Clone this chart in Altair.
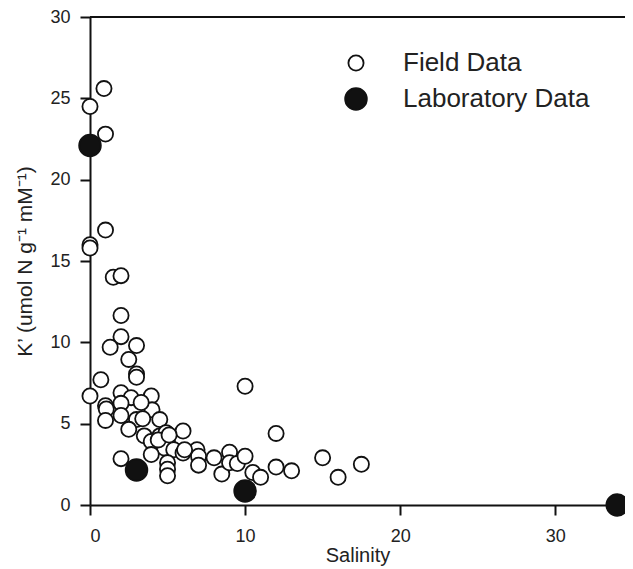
import altair as alt
import pandas as pd

field_x = [0, 0.9, 1.0, 0, 0, 1.0, 1.5, 2.0, 2.0, 2.0, 1.3, 3.0, 2.5, 3.0, 3.0,
           0.7, 0, 2.0, 2.65, 3.95, 1.0, 1.05, 2.0, 2.0, 1.0, 3.0, 4.0, 3.3, 4.5,
           2.5, 3.5, 3.95, 4.5, 4.9, 6.0, 5.0, 4.8, 5.4, 6.0, 3.95, 2.0, 5.0, 5.0,
           5.0, 6.9, 7.0, 7.0, 8.0, 8.5, 9.0, 9.0, 9.5, 10.0, 10.0, 10.5, 11.0,
           12.0, 12.0, 13.0, 15.0, 16.0, 17.5, 6.1, 4.4, 5.1, 3.4]
field_y = [24.5, 25.6, 22.8, 16.0, 15.8, 16.9, 14.0, 14.1, 11.65, 10.35, 9.7, 9.8,
           8.95, 8.05, 7.85, 7.7, 6.7, 6.9, 6.6, 6.7, 6.1, 5.9, 6.25, 5.5, 5.2, 5.25,
           5.85, 6.3, 5.25, 4.65, 4.25, 3.9, 4.25, 4.45, 4.55, 3.85, 3.5, 3.4, 3.2,
           3.1, 2.85, 2.6, 2.2, 1.8, 3.4, 3.0, 2.45, 2.9, 1.9, 3.25, 2.6, 2.55, 3.0,
           7.3, 2.0, 1.7, 4.4, 2.33, 2.1, 2.9, 1.7, 2.5, 3.4, 4.0, 4.3, 5.3]

lab_x = [0, 3, 10, 34]
lab_y = [22.1, 2.15, 0.86, 0]

series = ["Field Data", "Laboratory Data"]

df = pd.DataFrame({
    "Salinity": field_x + lab_x,
    "K": field_y + lab_y,
    "Type": [series[0]] * len(field_x) + [series[1]] * len(lab_x),
})

font = "Liberation Sans"
ink = "#111111"
txt = "#222222"
xs = alt.Scale(domain=[0, 34.5], nice=False, zero=False)
ys = alt.Scale(domain=[0, 30], nice=False)

axis_common = dict(grid=False, domainColor=ink, domainWidth=2, tickColor=ink,
                   tickWidth=2, tickSize=10, labelFontSize=18, labelColor=txt,
                   titleFontWeight="normal", titleColor=txt, labelFont=font,
                   titleFont=font)

points = alt.Chart(df).mark_point(
    shape="circle", filled=True, strokeWidth=1.8, opacity=1
).encode(
    x=alt.X("Salinity:Q", scale=xs, title="Salinity",
            axis=alt.Axis(values=[0, 10, 20, 30], labelPadding=12,
                          titleFontSize=20, titlePadding=0, **axis_common)),
    y=alt.Y("K:Q", scale=ys, title="K’ (umol N g⁻¹ mM⁻¹)",
            axis=alt.Axis(values=[0, 5, 10, 15, 20, 25, 30], labelPadding=10,
                          titleFontSize=21, titlePadding=14, **axis_common)),
    fill=alt.Fill("Type:N", scale=alt.Scale(domain=series, range=["white", ink]),
                  title=None),
    stroke=alt.Stroke("Type:N", scale=alt.Scale(domain=series, range=[ink, ink]),
                      title=None),
    size=alt.Size("Type:N", scale=alt.Scale(domain=series, range=[230, 470]), title=None),
    order=alt.Order("Type:N", sort="ascending"),
)

top = alt.Chart(df).mark_rule(color=ink, strokeWidth=2).encode(y=alt.datum(30))

chart = alt.layer(top, points).properties(
    width=535, height=488,
    autosize=alt.AutoSizeParams(type="none"),
    padding={"left": 82, "top": 9, "right": 0, "bottom": 62},
).configure_view(stroke=None).configure_legend(
    orient="none", legendX=253, legendY=33, padding=0,
    labelFontSize=26, labelFont=font, labelColor=txt, labelOffset=34, labelLimit=0,
    symbolStrokeWidth=1.8, rowPadding=8, symbolType="circle",
)

chart.save("out.html", embed_options={"renderer": "svg", "actions": False})
